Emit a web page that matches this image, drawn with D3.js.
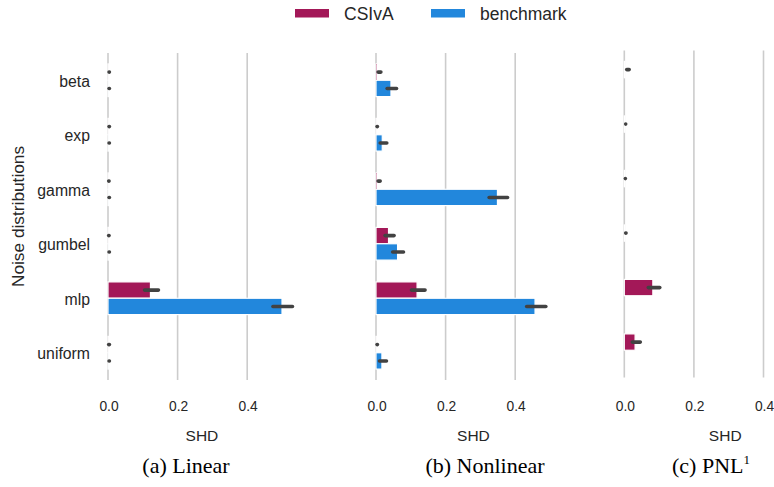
<!DOCTYPE html>
<html>
<head>
<meta charset="utf-8">
<script src="https://cdn.jsdelivr.net/npm/d3@7/dist/d3.min.js"></script>
<style>
  html, body { margin: 0; padding: 0; background: #fff; }
  svg text { font-family: Arial, "Liberation Sans", sans-serif; fill: #262626; }
</style>
</head>
<body>
<svg id="chart" width="774" height="487"></svg>
<script>
// ---- data ----
const categories = ["beta", "exp", "gamma", "gumbel", "mlp", "uniform"];
const seriesNames = ["CSIvA", "benchmark"];
const seriesColors = ["#a31858", "#2287dc"];
const xTicks = [0.0, 0.2, 0.4];
const panelTitles = ["(a) Linear", "(b) Nonlinear", "(c) PNL"];

// Linear
const linearCSIvA      = [0.001, 0.001, 0.001, 0.001, 0.122, 0.001];
const linearCSIvALo    = [0.003, 0.003, 0.002, 0.002, 0.105, 0.002];
const linearCSIvAHi    = [0.004, 0.004, 0.003, 0.003, 0.145, 0.004];
const linearBench      = [0.001, 0.001, 0.001, 0.001, 0.500, 0.001];
const linearBenchLo    = [0.003, 0.003, 0.003, 0.003, 0.474, 0.003];
const linearBenchHi    = [0.004, 0.004, 0.004, 0.004, 0.530, 0.004];
// Nonlinear
const nonlinCSIvA      = [0.004, 0.001, 0.004, 0.036, 0.118, 0.001];
const nonlinCSIvALo    = [0.006, 0.003, 0.006, 0.026, 0.102, 0.003];
const nonlinCSIvAHi    = [0.014, 0.004, 0.012, 0.052, 0.141, 0.004];
const nonlinBench      = [0.043, 0.018, 0.349, 0.062, 0.457, 0.017];
const nonlinBenchLo    = [0.032, 0.012, 0.325, 0.048, 0.433, 0.010];
const nonlinBenchHi    = [0.059, 0.031, 0.378, 0.079, 0.488, 0.030];
// PNL (benchmark not available)
const pnlCSIvA         = [0.003, 0.001, 0.0005, 0.001, 0.082, 0.031];
const pnlCSIvALo       = [0.007, 0.004, 0.003, 0.004, 0.069, 0.023];
const pnlCSIvAHi       = [0.014, 0.004, 0.003, 0.005, 0.102, 0.046];
const pnlBench         = [null, null, null, null, null, null];
const pnlBenchLo       = [null, null, null, null, null, null];
const pnlBenchHi       = [null, null, null, null, null, null];

const panels = [
  { x0: 108, xMax: 0.54, yTop: 53, yBot: 380, title: panelTitles[0], titleX: 186, sup: null,
    series: [[linearCSIvA, linearCSIvALo, linearCSIvAHi], [linearBench, linearBenchLo, linearBenchHi]] },
  { x0: 376, xMax: 0.56, yTop: 53, yBot: 380, title: panelTitles[1], titleX: 485, sup: null,
    series: [[nonlinCSIvA, nonlinCSIvALo, nonlinCSIvAHi], [nonlinBench, nonlinBenchLo, nonlinBenchHi]] },
  { x0: 624.3, xMax: 0.58, yTop: 50.5, yBot: 377.5, title: panelTitles[2], titleX: 711, sup: "1",
    series: [[pnlCSIvA, pnlCSIvALo, pnlCSIvAHi], [pnlBench, pnlBenchLo, pnlBenchHi]] }
];

const svg = d3.select("#chart");
const pxPerUnit = 348;

panels.forEach((p, pi) => {
  const x = d3.scaleLinear().domain([0, p.xMax]).range([p.x0, p.x0 + pxPerUnit * p.xMax]);
  const y = d3.scaleBand().domain(categories).range([p.yTop, p.yBot]).paddingInner(0).paddingOuter(0);
  const groupW = y.bandwidth() * 0.6;
  const yInner = d3.scaleBand().domain(seriesNames).range([-groupW / 2, groupW / 2]);

  const g = svg.append("g");

  // grid
  g.append("g").selectAll("line").data(xTicks).join("line")
    .attr("x1", d => x(d)).attr("x2", d => x(d))
    .attr("y1", p.yTop).attr("y2", p.yBot)
    .attr("stroke", "#cccccc").attr("stroke-width", 1.6);

  // bars
  p.series.forEach((s, si) => {
    const [vals, lo, hi] = s;
    const rows = categories.map((c, i) => ({ c, v: vals[i], lo: lo[i], hi: hi[i] })).filter(d => d.v !== null);
    g.append("g").selectAll("rect").data(rows).join("rect")
      .attr("x", x(0))
      .attr("y", d => y(d.c) + y.bandwidth() / 2 + yInner(seriesNames[si]))
      .attr("width", d => x(d.v) - x(0))
      .attr("height", yInner.bandwidth())
      .attr("fill", seriesColors[si])
      .attr("stroke", "#ffffff").attr("stroke-width", 1.2);
  });
  // error bars
  p.series.forEach((s, si) => {
    const [vals, lo, hi] = s;
    const rows = categories.map((c, i) => ({ c, v: vals[i], lo: lo[i], hi: hi[i] })).filter(d => d.v !== null);
    g.append("g").selectAll("line").data(rows).join("line")
      .attr("x1", d => x(d.lo)).attr("x2", d => x(d.hi))
      .attr("y1", d => y(d.c) + y.bandwidth() / 2 + yInner(seriesNames[si]) + yInner.bandwidth() / 2)
      .attr("y2", d => y(d.c) + y.bandwidth() / 2 + yInner(seriesNames[si]) + yInner.bandwidth() / 2)
      .attr("stroke", "#424242").attr("stroke-width", 3.6).attr("stroke-linecap", "round");
  });

  // x axis tick labels
  g.append("g").selectAll("text").data(xTicks).join("text")
    .attr("x", d => x(d) + 1).attr("y", 410.5)
    .attr("text-anchor", "middle").attr("font-size", 13.8)
    .text(d => d3.format(".1f")(d));
  g.append("text").attr("x", x(p.xMax / 2)).attr("y", 440.5)
    .attr("text-anchor", "middle").attr("font-size", 15.5).text("SHD");

  // y tick labels (first panel only)
  if (pi === 0) {
    g.append("g").selectAll("text").data(categories).join("text")
      .attr("x", 90).attr("y", d => y(d) + y.bandwidth() / 2 + 6.5)
      .attr("text-anchor", "end").attr("font-size", 15.8).text(d => d);
    g.append("text")
      .attr("transform", `translate(24,${(p.yTop + p.yBot) / 2}) rotate(-90)`)
      .attr("text-anchor", "middle").attr("font-size", 17.3).text("Noise distributions");
  }

  // caption
  const t = svg.append("text").attr("x", p.titleX).attr("y", 473)
    .attr("text-anchor", "middle")
    .style("font-family", "'Liberation Serif', 'Times New Roman', serif")
    .attr("font-size", 22).style("fill", "#000");
  t.append("tspan").text(p.title);
  if (p.sup) t.append("tspan").attr("dy", -9).attr("font-size", 13).text(p.sup);
});

// legend
const legendX = [295, 431];
const legend = svg.append("g");
seriesNames.forEach((n, i) => {
  legend.append("rect").attr("x", legendX[i]).attr("y", 9).attr("width", 34).attr("height", 8.5)
    .attr("fill", seriesColors[i]);
  legend.append("text").attr("x", legendX[i] + 49).attr("y", 20).attr("font-size", 17.5).text(n);
});
</script>
</body>
</html>
